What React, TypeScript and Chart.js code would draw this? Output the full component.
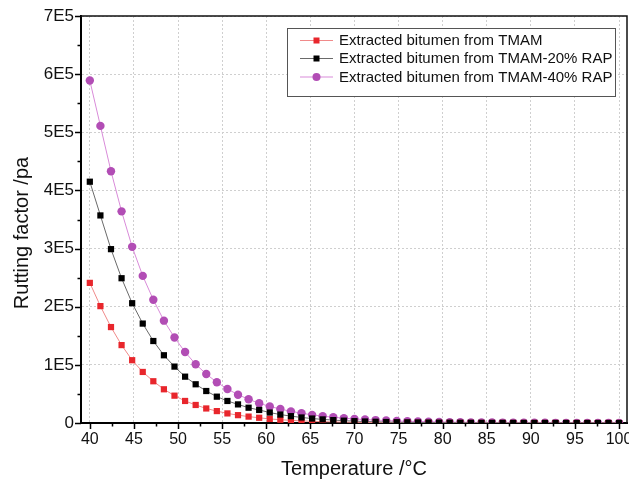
import React, { useEffect, useRef } from 'react';
import { Chart, registerables } from 'chart.js';

Chart.register(...registerables);

const temperatures = [
  40, 41.2, 42.4, 43.6, 44.8, 46, 47.2, 48.4, 49.6, 50.8, 52, 53.2, 54.4, 55.6, 56.8, 58, 59.2,
  60.4, 61.6, 62.8, 64, 65.2, 66.4, 67.6, 68.8, 70, 71.2, 72.4, 73.6, 74.8, 76, 77.2, 78.4, 79.6,
  80.8, 82, 83.2, 84.4, 85.6, 86.8, 88, 89.2, 90.4, 91.6, 92.8, 94, 95.2, 96.4, 97.6, 98.8, 100,
];

const tmam = [
  241000, 201000, 165000, 134000, 108000, 87800, 71800, 58000, 47000, 37900, 31000, 25000, 20500,
  16500, 13500, 11000, 9000, 7000, 5600, 4500, 3600, 2900, 2300, 1900, 1500, 1200, 1000, 800, 650,
  520, 420, 340, 280, 220, 180, 150, 120, 100, 80, 65, 52, 42, 34, 28, 22, 18, 15, 12, 10, 8, 6,
];

const tmam20 = [
  415000, 357000, 299000, 249000, 206000, 171000, 141000, 116500, 97000, 79700, 66600, 55000, 45300,
  37900, 32000, 26300, 22400, 18000, 14500, 11800, 9500, 7700, 6200, 5000, 4000, 3200, 2600, 2100,
  1700, 1350, 1100, 880, 700, 560, 450, 360, 290, 230, 185, 150, 120, 95, 76, 61, 49, 39, 31, 25,
  20, 16, 13,
];

const tmam40 = [
  589000, 511000, 433000, 364000, 303000, 253000, 212000, 176000, 147000, 122000, 101000, 84300,
  70000, 58500, 48700, 40800, 33900, 28500, 24000, 20000, 16800, 14000, 11800, 9900, 8300, 7000,
  5900, 5000, 4200, 3500, 3000, 2500, 2100, 1800, 1500, 1300, 1100, 900, 800, 700, 600, 500, 400,
  350, 300, 250, 200, 180, 150, 130, 110,
];

const seriesNames = [
  'Extracted bitumen from TMAM',
  'Extracted bitumen from TMAM-20% RAP',
  'Extracted bitumen from TMAM-40% RAP',
];

const xTitle = 'Temperature /°C';
const yTitle = 'Rutting factor /pa';

const xTickValues = [40, 45, 50, 55, 60, 65, 70, 75, 80, 85, 90, 95, 100];
const xMinorValues = [42.5, 47.5, 52.5, 57.5, 62.5, 67.5, 72.5, 77.5, 82.5, 87.5, 92.5, 97.5];
const yTickValues = [0, 100000, 200000, 300000, 400000, 500000, 600000, 700000];
const yTickLabels = ['0', '1E5', '2E5', '3E5', '4E5', '5E5', '6E5', '7E5'];
const yMinorValues = [50000, 150000, 250000, 350000, 450000, 550000, 650000];

const FONT = "'Liberation Sans', Arial, Helvetica, sans-serif";

const markerColors = ['#e8262c', '#000000', '#b24db5'];
const lineColors = ['#f08a8a', '#6a6a6a', '#d98bd9'];
const markerStyles = ['rect', 'rect', 'circle'];

const decorPlugin = {
  id: 'decor',
  afterDraw(chart: any) {
    const ctx = chart.ctx;
    const { left, right, top, bottom } = chart.chartArea;
    const xs = chart.scales.x;
    const ys = chart.scales.y;
    ctx.save();
    // frame top/right
    ctx.strokeStyle = '#111';
    ctx.lineWidth = 1.5;
    ctx.beginPath();
    ctx.moveTo(left, top);
    ctx.lineTo(right, top);
    ctx.lineTo(right, bottom);
    ctx.stroke();
    // ticks
    ctx.lineWidth = 1.5;
    ctx.strokeStyle = '#000';
    ctx.beginPath();
    xTickValues.forEach((v) => {
      const px = Math.round(xs.getPixelForValue(v)) + 0.5;
      ctx.moveTo(px, bottom);
      ctx.lineTo(px, bottom + 6);
    });
    xMinorValues.forEach((v) => {
      const px = Math.round(xs.getPixelForValue(v)) + 0.5;
      ctx.moveTo(px, bottom);
      ctx.lineTo(px, bottom + 3.5);
    });
    yTickValues.forEach((v) => {
      const py = Math.round(ys.getPixelForValue(v)) + 0.5;
      ctx.moveTo(left, py);
      ctx.lineTo(left - 6, py);
    });
    yMinorValues.forEach((v) => {
      const py = Math.round(ys.getPixelForValue(v)) + 0.5;
      ctx.moveTo(left, py);
      ctx.lineTo(left - 3.5, py);
    });
    ctx.stroke();

    // y title
    ctx.save();
    ctx.translate(28, 233);
    ctx.rotate(-Math.PI / 2);
    ctx.font = `20px ${FONT}`;
    ctx.fillStyle = '#111';
    ctx.textAlign = 'center';
    ctx.textBaseline = 'alphabetic';
    ctx.fillText(yTitle, 0, 0);
    ctx.restore();

    // legend
    const bx = 287.5;
    const by = 28.5;
    const bw = 328;
    const bh = 68;
    ctx.fillStyle = '#ffffff';
    ctx.fillRect(bx, by, bw, bh);
    ctx.strokeStyle = '#555';
    ctx.lineWidth = 1;
    ctx.strokeRect(bx, by, bw, bh);
    const rows = [40.5, 58.5, 77];
    ctx.font = `15px ${FONT}`;
    ctx.textBaseline = 'middle';
    ctx.textAlign = 'left';
    seriesNames.forEach((name, i) => {
      const y = rows[i];
      ctx.strokeStyle = lineColors[i];
      ctx.lineWidth = 1;
      ctx.beginPath();
      ctx.moveTo(300, y);
      ctx.lineTo(333, y);
      ctx.stroke();
      ctx.fillStyle = markerColors[i];
      if (markerStyles[i] === 'circle') {
        ctx.beginPath();
        ctx.arc(316.5, y, 4, 0, Math.PI * 2);
        ctx.fill();
      } else {
        ctx.fillRect(313.5, y - 3, 6, 6);
      }
      ctx.fillStyle = '#111';
      ctx.fillText(name, 339, y + 0.5);
    });
    ctx.restore();
  },
};

export default function App() {
  const ref = useRef<HTMLCanvasElement | null>(null);

  useEffect(() => {
    document.body.style.margin = '0';
    const canvas = ref.current;
    if (!canvas) return;
    const seriesList = [tmam, tmam20, tmam40];
    const orders = [1, 0, 2];
    const chart = new Chart(canvas, {
      type: 'line',
      data: {
        datasets: seriesList.map((s, i) => ({
          label: seriesNames[i],
          data: temperatures.map((t, j) => ({ x: t, y: s[j] })),
          borderColor: lineColors[i],
          backgroundColor: markerColors[i],
          borderWidth: 1,
          pointStyle: markerStyles[i] as any,
          pointRadius: markerStyles[i] === 'circle' ? 4.2 : 4.4,
          pointBorderWidth: 0,
          pointBackgroundColor: markerColors[i],
          pointBorderColor: markerColors[i],
          tension: 0,
          fill: false,
          order: orders[i],
        })),
      },
      options: {
        responsive: false,
        animation: false,
        layout: { autoPadding: false, padding: { top: 16, right: 2, left: 0, bottom: 0 } },
        plugins: { legend: { display: false }, tooltip: { enabled: false } },
        scales: {
          x: {
            type: 'linear',
            min: 39,
            max: 100.9,
            afterBuildTicks: (s: any) => {
              s.ticks = xTickValues.map((v) => ({ value: v }));
            },
            afterFit: (s: any) => {
              s.height = 58;
              s.paddingLeft = 0;
              s.paddingRight = 0;
            },
            ticks: {
              callback: (v: any) => String(v),
              font: { family: FONT, size: 16 },
              color: '#111',
              padding: 7,
              maxRotation: 0,
              autoSkip: false,
            },
            grid: { color: '#cfcfcf', lineWidth: 1, drawTicks: false },
            border: { display: true, color: '#000', width: 2, dash: [2, 2] },
            title: {
              display: true,
              text: xTitle,
              font: { family: FONT, size: 20 },
              color: '#111',
              padding: { top: 0, bottom: 0 },
            },
          },
          y: {
            type: 'linear',
            min: 0,
            max: 700000,
            afterBuildTicks: (s: any) => {
              s.ticks = yTickValues.map((v) => ({ value: v }));
            },
            afterFit: (s: any) => {
              s.width = 81;
              s.paddingTop = 0;
              s.paddingBottom = 0;
            },
            ticks: {
              callback: (_v: any, idx: number) => yTickLabels[idx],
              font: { family: FONT, size: 17 },
              color: '#111',
              padding: 7,
              autoSkip: false,
            },
            grid: { color: '#cfcfcf', lineWidth: 1, drawTicks: false },
            border: { display: true, color: '#000', width: 2, dash: [2, 2] },
            title: { display: false },
          },
        },
      },
      plugins: [decorPlugin],
    } as any);
    return () => chart.destroy();
  }, []);

  return (
    <div style={{ position: 'fixed', left: 0, top: 0, width: 629, height: 481, background: '#fff' }}>
      <canvas ref={ref} width={629} height={481} style={{ display: 'block', width: 629, height: 481 }} />
    </div>
  );
}
